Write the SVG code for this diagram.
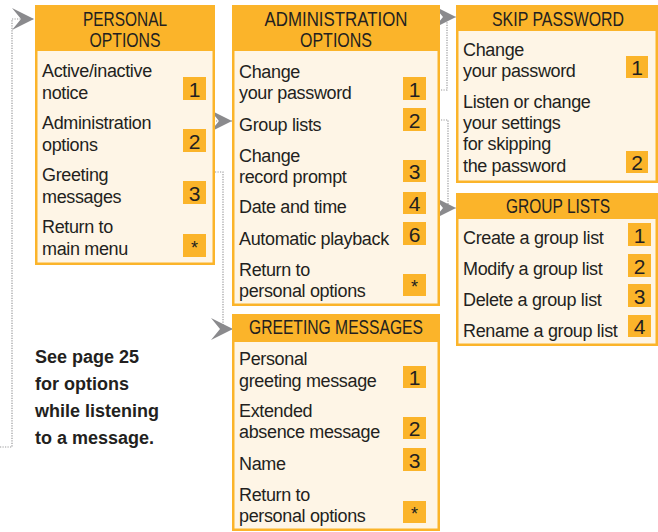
<svg xmlns="http://www.w3.org/2000/svg" width="658" height="532" viewBox="0 0 658 532">
<style>
.frame{fill:#FBB42A}
.body{fill:#FEF5E6}
.badge{fill:#FBB42A}
.t{font-family:"Liberation Sans",Arial,sans-serif;font-size:18px;letter-spacing:-0.35px;fill:#231F20}
.h{font-family:"Liberation Sans",Arial,sans-serif;font-size:20px;fill:#231F20;text-anchor:middle}
.n{font-family:"Liberation Sans",Arial,sans-serif;font-size:21px;fill:#231F20;text-anchor:middle}
.s{font-family:"Liberation Sans",Arial,sans-serif;font-size:18px;fill:#231F20;text-anchor:middle}
.note{font-family:"Liberation Sans",Arial,sans-serif;font-size:18px;font-weight:bold;fill:#231F20}
.link{fill:none;stroke:#9A9A9C;stroke-width:1.2;stroke-dasharray:1.2 1.3;marker-end:url(#chev)}
</style>
<defs>
<marker id="chev" markerUnits="userSpaceOnUse" markerWidth="22" markerHeight="22" viewBox="-22 -11 22 22" refX="0" refY="0" orient="auto">
<path d="M-22,-11 L0,0 L-22,11 L-13,0 Z" fill="#8A8A8D"/>
</marker>
</defs>

<g id="connectors">
<path class="link" d="M0,447 H12 V19 H34"/>
<path class="link" d="M206,121 H232"/>
<path class="link" d="M205,172 H223 V329 H233"/>
<path class="link" d="M426,90 H447 V17 H456"/>
<path class="link" d="M426,120 H448 V208 H456"/>
</g>

<g id="personal-options">
<rect class="frame" x="35" y="5" width="180" height="260"/>
<rect class="body" x="37.5" y="51" width="175" height="211.5"/>
<text class="h" x="125" y="26" textLength="84" lengthAdjust="spacingAndGlyphs">PERSONAL</text>
<text class="h" x="125" y="47" textLength="71" lengthAdjust="spacingAndGlyphs">OPTIONS</text>
<text class="t" x="42" y="77">Active/inactive</text>
<text class="t" x="42" y="99">notice</text>
<text class="t" x="42" y="129">Administration</text>
<text class="t" x="42" y="151">options</text>
<text class="t" x="42" y="181">Greeting</text>
<text class="t" x="42" y="203">messages</text>
<text class="t" x="42" y="233">Return to</text>
<text class="t" x="42" y="255">main menu</text>
<rect class="badge" x="183" y="77" width="23" height="23"/><text class="n" x="194.5" y="97">1</text>
<rect class="badge" x="183" y="129" width="23" height="23"/><text class="n" x="194.5" y="149">2</text>
<rect class="badge" x="183" y="181" width="23" height="23"/><text class="n" x="194.5" y="201">3</text>
<rect class="badge" x="183" y="234" width="23" height="23"/><text class="s" x="194.5" y="254">*</text>
</g>

<g id="administration-options">
<rect class="frame" x="232" y="5" width="208" height="301"/>
<rect class="body" x="234.5" y="51" width="203" height="252.5"/>
<text class="h" x="336" y="26" textLength="143" lengthAdjust="spacingAndGlyphs">ADMINISTRATION</text>
<text class="h" x="336" y="47" textLength="72" lengthAdjust="spacingAndGlyphs">OPTIONS</text>
<text class="t" x="239" y="78">Change</text>
<text class="t" x="239" y="99">your password</text>
<text class="t" x="239" y="131">Group lists</text>
<text class="t" x="239" y="162">Change</text>
<text class="t" x="239" y="183">record prompt</text>
<text class="t" x="239" y="213">Date and time</text>
<text class="t" x="239" y="245">Automatic playback</text>
<text class="t" x="239" y="276">Return to</text>
<text class="t" x="239" y="297">personal options</text>
<rect class="badge" x="403" y="77" width="23" height="23"/><text class="n" x="414.5" y="97">1</text>
<rect class="badge" x="403" y="108" width="23" height="23"/><text class="n" x="414.5" y="128">2</text>
<rect class="badge" x="403" y="160" width="23" height="22"/><text class="n" x="414.5" y="179">3</text>
<rect class="badge" x="403" y="192" width="23" height="22"/><text class="n" x="414.5" y="211">4</text>
<rect class="badge" x="403" y="222" width="23" height="23"/><text class="n" x="414.5" y="242">6</text>
<rect class="badge" x="403" y="274" width="23" height="22"/><text class="s" x="414.5" y="293">*</text>
</g>

<g id="skip-password">
<rect class="frame" x="456" y="5" width="202" height="178"/>
<rect class="body" x="458.5" y="31" width="197" height="149.5"/>
<text class="h" x="558" y="26" textLength="132" lengthAdjust="spacingAndGlyphs">SKIP PASSWORD</text>
<text class="t" x="463" y="56">Change</text>
<text class="t" x="463" y="77">your password</text>
<text class="t" x="463" y="108">Listen or change</text>
<text class="t" x="463" y="129">your settings</text>
<text class="t" x="463" y="150">for skipping</text>
<text class="t" x="463" y="172">the password</text>
<rect class="badge" x="626" y="56" width="22" height="22"/><text class="n" x="637" y="75">1</text>
<rect class="badge" x="626" y="151" width="22" height="22"/><text class="n" x="637" y="170">2</text>
</g>

<g id="group-lists">
<rect class="frame" x="456" y="193" width="202" height="153"/>
<rect class="body" x="458.5" y="219" width="197" height="124.5"/>
<text class="h" x="558" y="213" textLength="104" lengthAdjust="spacingAndGlyphs">GROUP LISTS</text>
<text class="t" x="463" y="244">Create a group list</text>
<text class="t" x="463" y="275">Modify a group list</text>
<text class="t" x="463" y="306">Delete a group list</text>
<text class="t" x="463" y="337">Rename a group list</text>
<rect class="badge" x="628" y="223" width="23" height="23"/><text class="n" x="639.5" y="243">1</text>
<rect class="badge" x="628" y="254" width="23" height="23"/><text class="n" x="639.5" y="274">2</text>
<rect class="badge" x="628" y="284" width="23" height="23"/><text class="n" x="639.5" y="304">3</text>
<rect class="badge" x="628" y="315" width="23" height="22"/><text class="n" x="639.5" y="334">4</text>
</g>

<g id="greeting-messages">
<rect class="frame" x="232" y="314" width="208" height="217"/>
<rect class="body" x="234.5" y="342" width="203" height="186.5"/>
<text class="h" x="336" y="334" textLength="174" lengthAdjust="spacingAndGlyphs">GREETING MESSAGES</text>
<text class="t" x="239" y="365">Personal</text>
<text class="t" x="239" y="387">greeting message</text>
<text class="t" x="239" y="417">Extended</text>
<text class="t" x="239" y="438">absence message</text>
<text class="t" x="239" y="470">Name</text>
<text class="t" x="239" y="501">Return to</text>
<text class="t" x="239" y="522">personal options</text>
<rect class="badge" x="403" y="366" width="23" height="22"/><text class="n" x="414.5" y="385">1</text>
<rect class="badge" x="403" y="417" width="23" height="22"/><text class="n" x="414.5" y="436">2</text>
<rect class="badge" x="403" y="448" width="23" height="23"/><text class="n" x="414.5" y="468">3</text>
<rect class="badge" x="403" y="501" width="23" height="22"/><text class="s" x="414.5" y="520">*</text>
</g>

<g id="note">
<text class="note" x="35" y="363">See page 25</text>
<text class="note" x="35" y="390">for options</text>
<text class="note" x="35" y="417">while listening</text>
<text class="note" x="35" y="444">to a message.</text>
</g>
</svg>
